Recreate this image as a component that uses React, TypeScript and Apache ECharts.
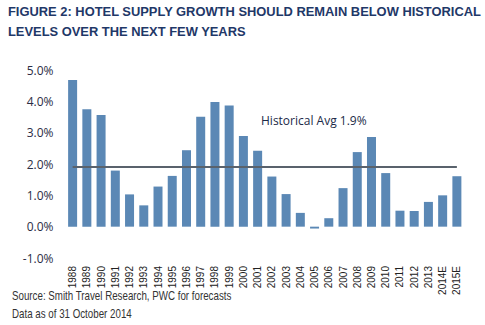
import React, { useEffect, useRef } from "react";
import * as echarts from "echarts";

const categories = [
  "1988", "1989", "1990", "1991", "1992", "1993", "1994", "1995", "1996", "1997",
  "1998", "1999", "2000", "2001", "2002", "2003", "2004", "2005", "2006", "2007",
  "2008", "2009", "2010", "2011", "2012", "2013", "2014E", "2015E",
];
const supplyGrowth = [
  4.68, 3.75, 3.56, 1.79, 1.03, 0.68, 1.28, 1.62, 2.44, 3.51,
  3.98, 3.87, 2.89, 2.42, 1.6, 1.04, 0.44, -0.06, 0.27, 1.23,
  2.38, 2.86, 1.71, 0.51, 0.5, 0.79, 1.0, 1.61,
];
const historicalAvg = 1.9;
const yTicks = { min: -1, max: 5, interval: 1 };
const titleLines = [
  "FIGURE 2: HOTEL SUPPLY GROWTH SHOULD REMAIN BELOW HISTORICAL",
  "LEVELS OVER THE NEXT FEW YEARS",
];
const avgLabel = "Historical Avg 1.9%";
const sourceLines = [
  "Source: Smith Travel Research, PWC for forecasts",
  "Data as of 31 October 2014",
];

export default function App() {
  const ref = useRef<HTMLDivElement>(null);
  useEffect(() => {
    if (!ref.current) return;
    const chart = echarts.init(ref.current, undefined, { renderer: "svg" });
    const titleColor = "#1f3868";
    chart.setOption({
      animation: false,
      backgroundColor: "#ffffff",
      grid: { left: 65.5, right: 21, top: 70, bottom: 67, containLabel: false },
      xAxis: {
        type: "category",
        data: categories,
        boundaryGap: true,
        axisLine: { show: false },
        axisTick: { show: false },
        axisLabel: {
          rotate: 90,
          interval: 0,
          margin: 8,
          fontSize: 10,
          fontFamily: "Liberation Sans, Arial, sans-serif",
          color: "#222222",
        },
      },
      yAxis: {
        type: "value",
        min: yTicks.min,
        max: yTicks.max,
        interval: yTicks.interval,
        splitLine: { show: false },
        axisLine: { show: false },
        axisTick: { show: false },
        axisLabel: {
          margin: 12,
          fontSize: 12,
          fontFamily: "Open Sans, sans-serif",
          color: "#2b2d45",
          formatter: (v: number) => v.toFixed(1) + "%",
        },
      },
      series: [
        {
          type: "bar",
          data: supplyGrowth,
          barWidth: 9,
          itemStyle: { color: "#5b88b5" },
          markLine: {
            symbol: "none",
            silent: true,
            label: { show: false },
            lineStyle: { color: "#59626c", width: 2, type: "solid" },
            data: [
              [
                { coord: [categories[0], historicalAvg] },
                { coord: [categories[categories.length - 1], historicalAvg] },
              ],
            ],
          },
        },
      ],
      graphic: [
        {
          type: "text",
          left: 8,
          top: 2,
          style: {
            text: titleLines.join("\n"),
            fontSize: 12.9,
            fontWeight: "bold",
            lineHeight: 19.5,
            fontFamily: "Liberation Sans, Arial, sans-serif",
            fill: titleColor,
          },
        },
        {
          type: "text",
          left: 261,
          top: 114,
          style: {
            text: avgLabel,
            fontSize: 12,
            fontFamily: "Open Sans, sans-serif",
            fill: "#1c2a48",
          },
        },
        {
          type: "text",
          x: 12,
          y: 287,
          scaleX: 0.75,
          style: {
            text: sourceLines.join("\n"),
            fontSize: 13,
            lineHeight: 17.5,
            fontFamily: "Liberation Sans, Arial, sans-serif",
            fill: "#333333",
          },
        },
      ],
    });
    return () => chart.dispose();
  }, []);
  return (
    <div
      ref={ref}
      style={{ position: "absolute", left: 0, top: 0, width: 485, height: 325 }}
    />
  );
}
